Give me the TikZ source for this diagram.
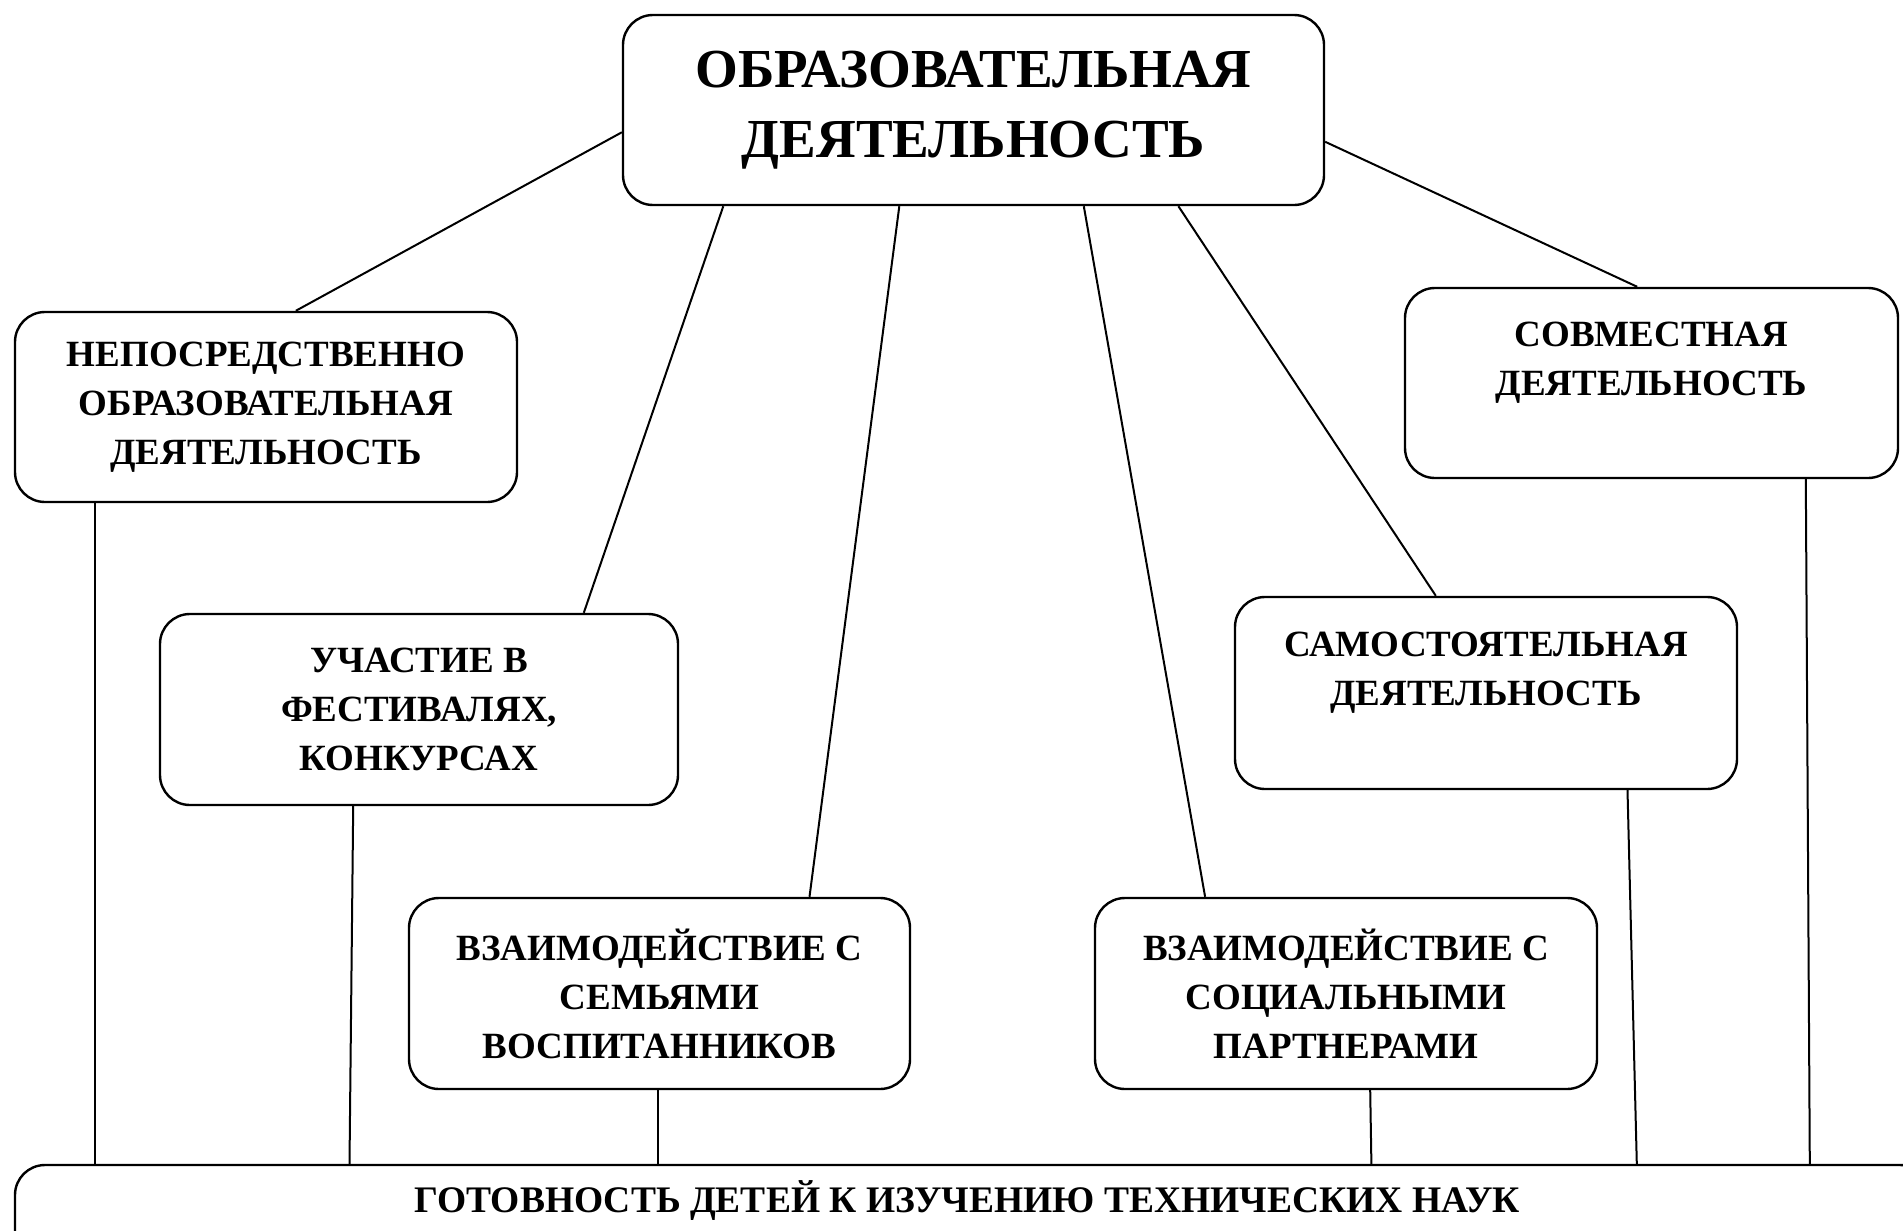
\documentclass[tikz,border=0pt]{standalone}
\usepackage{fontspec}
\setmainfont{Liberation Serif}
\usetikzlibrary{calc}
\begin{document}
\begin{tikzpicture}[x=1pt,y=-1pt,
  box/.style={draw,line width=2.4pt,rounded corners=30pt,inner sep=0pt,align=center,font=\bfseries\fontsize{37}{49}\selectfont},
  conn/.style={line width=2pt}]
\useasboundingbox (0,0) rectangle (1903,1231);
\clip (0,0) rectangle (1903,1231);
\node[box,minimum width=701pt,minimum height=190pt,font=\bfseries\fontsize{55}{70}\selectfont] (top) at (973.5,110) {ОБРАЗОВАТЕЛЬНАЯ\\ДЕЯТЕЛЬНОСТЬ};
\node[box,minimum width=502pt,minimum height=190pt] (nod) at (266,407) {НЕПОСРЕДСТВЕННО\\ОБРАЗОВАТЕЛЬНАЯ\\ДЕЯТЕЛЬНОСТЬ};
\node[box,minimum width=518pt,minimum height=191pt] (uch) at (419,709.5) {УЧАСТИЕ В\\ФЕСТИВАЛЯХ,\\КОНКУРСАХ};
\node[box,minimum width=501pt,minimum height=191pt] (sem) at (659.5,993.5) {ВЗАИМОДЕЙСТВИЕ С\\СЕМЬЯМИ\\ВОСПИТАННИКОВ};
\node[box,minimum width=502pt,minimum height=191pt] (soc) at (1346,993.5) {ВЗАИМОДЕЙСТВИЕ С\\СОЦИАЛЬНЫМИ\\ПАРТНЕРАМИ};
\node[box,minimum width=502pt,minimum height=192pt] (sam) at (1486,693) {САМОСТОЯТЕЛЬНАЯ\\ДЕЯТЕЛЬНОСТЬ\\\mbox{}};
\node[box,minimum width=493pt,minimum height=190pt] (sov) at (1651.5,383) {СОВМЕСТНАЯ\\ДЕЯТЕЛЬНОСТЬ\\\mbox{}};
\node[box,minimum width=1915pt,minimum height=110pt] (bot) at (972.5,1220) {};
\node[font=\bfseries\fontsize{37.5}{44}\selectfont,inner sep=0pt] (bottxt) at (967,1201) {ГОТОВНОСТЬ ДЕТЕЙ К ИЗУЧЕНИЮ ТЕХНИЧЕСКИХ НАУК};
% connectors from top
\draw[conn] ([yshift=-118.5pt]top.north west) -- ([xshift=282pt]nod.north west);
\draw[conn] ([xshift=101.5pt]top.south west) -- ([xshift=425pt]uch.north west);
\draw[conn] ([xshift=277.5pt]top.south west) -- ([xshift=401.7pt]sem.north west);
\draw[conn] ([xshift=462pt]top.south west) -- ([xshift=111.3pt]soc.north west);
\draw[conn] ([xshift=556.6pt]top.south west) -- ([xshift=202pt]sam.north west);
\draw[conn] ([yshift=-128pt]top.north east) -- ([xshift=233.4pt]sov.north west);
% connectors to bottom
\draw[conn] ([xshift=81pt]nod.south west) -- ([xshift=81pt]bot.north west);
\draw[conn] ([xshift=194.4pt]uch.south west) -- ([xshift=335.7pt]bot.north west);
\draw[conn] ([xshift=250pt]sem.south west) -- ([xshift=644pt]bot.north west);
\draw[conn] ([xshift=276.4pt]soc.south west) -- ([xshift=1357.6pt]bot.north west);
\draw[conn] ([xshift=393.7pt]sam.south west) -- ([xshift=1623pt]bot.north west);
\draw[conn] ([xshift=402pt]sov.south west) -- ([xshift=1796pt]bot.north west);
\end{tikzpicture}
\end{document}
